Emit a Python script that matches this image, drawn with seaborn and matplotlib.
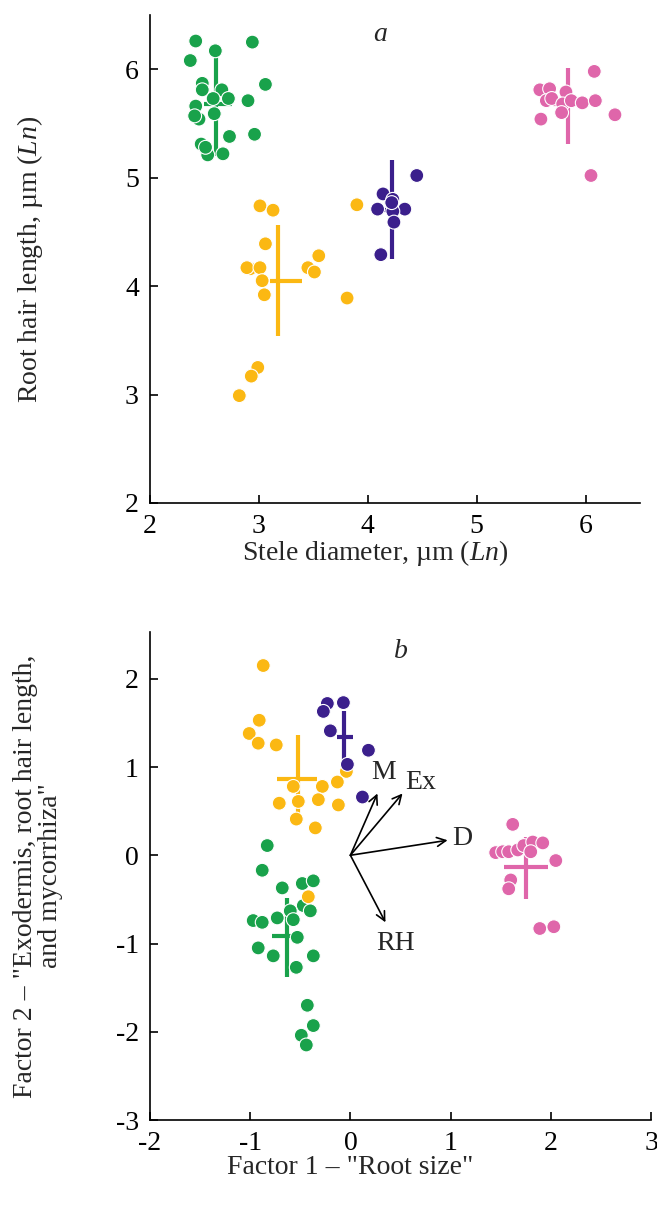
import matplotlib
matplotlib.use("Agg")
import matplotlib.pyplot as plt
import seaborn as sns
import pandas as pd
import numpy as np

# ---------------- data ----------------
groups = ["green", "yellow", "purple", "pink"]
palette = {"green": "#19a24b", "yellow": "#fbb813", "purple": "#3b1f8c", "pink": "#df66aa"}

# Panel a: stele diameter (Ln) vs root hair length (Ln)
a_green_x = [2.42, 2.94, 2.60, 2.37, 3.06, 2.48, 2.48, 2.66, 2.72, 2.58, 2.90, 2.42, 2.45, 2.59, 2.73, 2.96, 2.47, 2.53, 2.67, 2.41, 2.51]
a_green_y = [6.26, 6.25, 6.17, 6.08, 5.86, 5.87, 5.81, 5.81, 5.73, 5.73, 5.71, 5.66, 5.54, 5.59, 5.38, 5.40, 5.31, 5.21, 5.22, 5.57, 5.28]
a_yellow_x = [3.01, 3.13, 3.90, 3.06, 3.55, 2.92, 2.89, 3.01, 3.45, 3.51, 3.03, 3.05, 3.81, 2.99, 2.93, 2.82]
a_yellow_y = [4.74, 4.70, 4.75, 4.39, 4.28, 4.16, 4.17, 4.17, 4.17, 4.13, 4.05, 3.92, 3.89, 3.25, 3.17, 2.99]
a_purple_x = [4.45, 4.14, 4.23, 4.09, 4.34, 4.23, 4.24, 4.12, 4.22]
a_purple_y = [5.02, 4.85, 4.80, 4.71, 4.71, 4.69, 4.59, 4.29, 4.77]
a_pink_x = [6.08, 5.58, 5.67, 5.82, 5.64, 5.69, 5.79, 5.87, 5.97, 6.09, 5.78, 5.59, 6.27, 6.05]
a_pink_y = [5.98, 5.81, 5.82, 5.79, 5.71, 5.73, 5.68, 5.71, 5.69, 5.71, 5.60, 5.54, 5.58, 5.02]

# Panel a group means and ranges (mean +/- SD)
a_mean_x = [2.61, 3.18, 4.22, 5.84]
a_mean_y = [5.68, 4.05, 4.70, 5.68]
a_x_lo = [2.50, 3.10, 4.15, 5.70]
a_x_hi = [2.75, 3.40, 4.30, 5.98]
a_y_lo = [5.20, 3.54, 4.25, 5.31]
a_y_hi = [6.12, 4.56, 5.16, 6.01]

# Panel b: factor scores
b_green_x = [-0.83, -0.88, -0.68, -0.48, -0.37, -0.47, -0.40, -0.60, -0.57, -0.97, -0.88, -0.73, -0.53, -0.92, -0.77, -0.37, -0.54, -0.43, -0.37, -0.49, -0.44]
b_green_y = [0.11, -0.17, -0.37, -0.32, -0.29, -0.57, -0.63, -0.63, -0.73, -0.74, -0.76, -0.71, -0.93, -1.05, -1.14, -1.14, -1.27, -1.70, -1.93, -2.04, -2.15]
b_yellow_x = [-0.87, -0.91, -1.01, -0.92, -0.74, -0.04, -0.13, -0.28, -0.57, -0.71, -0.52, -0.32, -0.12, -0.54, -0.35, -0.42]
b_yellow_y = [2.15, 1.53, 1.38, 1.27, 1.25, 0.95, 0.83, 0.78, 0.78, 0.59, 0.61, 0.63, 0.57, 0.41, 0.31, -0.47]
b_purple_x = [-0.23, -0.07, -0.27, -0.20, 0.18, -0.03, 0.12]
b_purple_y = [1.72, 1.73, 1.63, 1.41, 1.19, 1.03, 0.66]
b_pink_x = [1.62, 1.45, 1.52, 1.58, 1.67, 1.73, 1.82, 1.92, 1.80, 2.05, 1.60, 1.58, 1.89, 2.03]
b_pink_y = [0.35, 0.03, 0.04, 0.04, 0.06, 0.11, 0.15, 0.14, 0.04, -0.06, -0.28, -0.38, -0.83, -0.81]

b_mean_x = [-0.63, -0.52, -0.06, 1.75]
b_mean_y = [-0.92, 0.86, 1.34, -0.13]
b_x_lo = [-0.78, -0.73, -0.13, 1.53]
b_x_hi = [-0.47, -0.33, 0.03, 1.97]
b_y_lo = [-1.38, 0.36, 1.04, -0.49]
b_y_hi = [-0.48, 1.36, 1.63, 0.21]

# loadings (arrows) in panel b
load_names = ["M", "Ex", "D", "RH"]
load_x = [0.27, 0.52, 0.97, 0.35]
load_y = [0.70, 0.70, 0.17, -0.76]
label_x = [0.33, 0.70, 1.12, 0.45]
label_y = [0.94, 0.83, 0.19, -1.00]

# ---------------- style ----------------
sns.set_theme(style="ticks")
plt.rcParams["font.family"] = ["Liberation Serif", "DejaVu Serif"]
plt.rcParams["mathtext.fontset"] = "custom"
plt.rcParams["mathtext.rm"] = "Liberation Serif"
plt.rcParams["mathtext.it"] = "Liberation Serif:italic"
plt.rcParams["axes.unicode_minus"] = False
FS = 20


def frame(xs_list, ys_list):
    rows = []
    for g, xs, ys in zip(groups, xs_list, ys_list):
        for x, y in zip(xs, ys):
            rows.append({"x": x, "y": y, "group": g})
    return pd.DataFrame(rows)


df_a = frame([a_green_x, a_yellow_x, a_purple_x, a_pink_x],
             [a_green_y, a_yellow_y, a_purple_y, a_pink_y])
df_b = frame([b_green_x, b_yellow_x, b_purple_x, b_pink_x],
             [b_green_y, b_yellow_y, b_purple_y, b_pink_y])

fig = plt.figure(figsize=(6.57, 12.12), dpi=100)
ax_a = fig.add_axes([150 / 657, 1 - 503 / 1212, 490 / 657, 488 / 1212])
ax_b = fig.add_axes([150 / 657, 1 - 1120 / 1212, 501 / 657, 488 / 1212])


def crosses(ax, mx, my, xlo, xhi, ylo, yhi):
    for i, g in enumerate(groups):
        c = palette[g]
        ax.plot([mx[i], mx[i]], [ylo[i], yhi[i]], color=c, lw=3, zorder=1, solid_capstyle="butt")
        ax.plot([xlo[i], xhi[i]], [my[i], my[i]], color=c, lw=3, zorder=1, solid_capstyle="butt")


def style(ax):
    sns.despine(ax=ax)
    for s in ["left", "bottom"]:
        ax.spines[s].set_linewidth(1.2)
        ax.spines[s].set_color("black")
    ax.tick_params(direction="in", length=6, width=1.2, labelsize=FS, colors="black", pad=8)
    ax.set_facecolor("white")


# panel a
crosses(ax_a, a_mean_x, a_mean_y, a_x_lo, a_x_hi, a_y_lo, a_y_hi)
sns.scatterplot(data=df_a, x="x", y="y", hue="group", palette=palette, s=100,
                edgecolor="white", linewidth=0.8, legend=False, ax=ax_a, zorder=3)
ax_a.set_xlim(2, 6.5)
ax_a.set_ylim(2, 6.5)
ax_a.set_xticks([2, 3, 4, 5, 6])
ax_a.set_yticks([2, 3, 4, 5, 6])
ax_a.set_xlabel(r"Stele diameter, µm ($\it{Ln}$)", fontsize=FS, va="center")
ax_a.set_ylabel(r"Root hair length, µm ($\it{Ln}$)", fontsize=FS, va="center")
ax_a.xaxis.set_label_coords((375 - 150) / 490, (503 - 553) / 488)
ax_a.yaxis.set_label_coords((30 - 150) / 490, 0.5)
ax_a.text(0.47, 0.96, "a", transform=ax_a.transAxes, fontsize=FS, style="italic", ha="center", va="center")
style(ax_a)

# panel b
crosses(ax_b, b_mean_x, b_mean_y, b_x_lo, b_x_hi, b_y_lo, b_y_hi)
sns.scatterplot(data=df_b, x="x", y="y", hue="group", palette=palette, s=100,
                edgecolor="white", linewidth=0.8, legend=False, ax=ax_b, zorder=3)
for n, lx, ly, tx, ty in zip(load_names, load_x, load_y, label_x, label_y):
    ax_b.annotate("", xy=(lx, ly), xytext=(0, 0),
                  arrowprops=dict(arrowstyle="->", color="black", lw=1.2, mutation_scale=16,
                                  shrinkA=0, shrinkB=0), zorder=4)
    ax_b.text(tx, ty, n, fontsize=FS, ha="center", va="center", zorder=5)
ax_b.set_xlim(-2, 3)
ax_b.set_ylim(-3, 2.53)
ax_b.set_xticks([-2, -1, 0, 1, 2, 3])
ax_b.set_yticks([-3, -2, -1, 0, 1, 2])
ax_b.set_xlabel('Factor 1 – "Root size"', fontsize=FS, va="center")
ax_b.set_ylabel('Factor 2 – "Exodermis, root hair length,\nand mycorrhiza"', fontsize=FS,
                linespacing=1.05, va="center")
ax_b.xaxis.set_label_coords((350 - 150) / 501, (1120 - 1168) / 488)
ax_b.yaxis.set_label_coords((38 - 150) / 501, 0.5)
ax_b.text(0.5, 0.96, "b", transform=ax_b.transAxes, fontsize=FS, style="italic", ha="center", va="center")
style(ax_b)

fig.patch.set_facecolor("white")
fig.savefig("out.png", dpi=100, facecolor="white")
